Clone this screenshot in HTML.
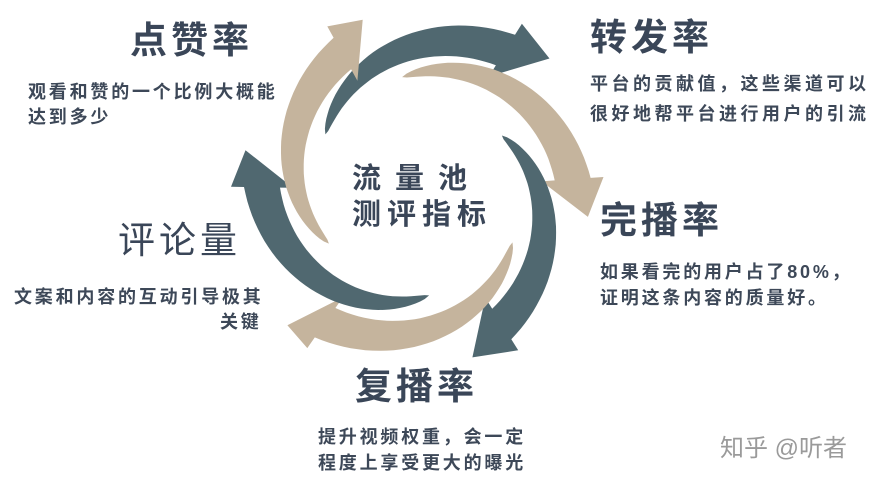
<!DOCTYPE html>
<html><head><meta charset="utf-8"><style>
html,body{margin:0;padding:0;background:#fff;}
body{width:885px;height:482px;position:relative;overflow:hidden;font-family:"Liberation Sans","Noto Sans CJK SC",sans-serif;color:#3a4658;}
.t{position:absolute;white-space:nowrap;}
.h{font-size:37px;font-weight:bold;line-height:42px;letter-spacing:4px;}
.b{font-size:18px;line-height:25px;font-weight:bold;color:#3d4858;letter-spacing:2.8px;}
</style></head><body>
<svg id="s" width="885" height="482" style="position:absolute;left:0;top:0"></svg>
<div class="t h" style="left:130px;top:20px;">点赞率</div>
<div class="t b" style="left:28px;top:80px;">观看和赞的一个比例大概能<br>达到多少</div>
<div class="t h" style="left:590px;top:17px;">转发率</div>
<div class="t b" style="left:590px;top:69px;line-height:30px;letter-spacing:3.5px;">平台的贡献值，这些渠道可以<br>很好地帮平台进行用户的引流</div>
<div class="t h" style="left:600px;top:200px;">完播率</div>
<div class="t b" style="left:600px;top:259px;line-height:26px;">如果看完的用户占了80%，<br>证明这条内容的质量好。</div>
<div class="t h" style="left:118px;top:220px;font-weight:normal;">评论量</div>
<div class="t b" style="left:14px;top:285px;">文案和内容的互动引导极其</div>
<div class="t b" style="left:220px;top:310px;">关键</div>
<div class="t h" style="left:355px;top:366px;">复播率</div>
<div class="t b" style="left:318px;top:424px;line-height:26px;">提升视频权重，会一定<br>程度上享受更大的曝光</div>
<div class="t" style="left:352px;top:161px;font-size:29px;line-height:36px;font-weight:bold;letter-spacing:14px;">流量池</div>
<div class="t" style="left:352px;top:197px;font-size:29px;line-height:36px;font-weight:bold;letter-spacing:6px;">测评指标</div>
<div class="t" style="left:720px;top:428px;font-size:24px;color:#9a9a9a;">知乎 @听者</div>
<script>
var cx=418,cy=190,s=document.getElementById('s'),out='';
function arrow(a0,r0,a1,r1,at,rt,col){
 var N=40,L=[],R=[];
 for(var i=0;i<=N;i++){var t=i/N,a=(a0+(a1-a0)*t)*Math.PI/180,r=r0+(r1-r0)*t,w=36*Math.pow(t,0.6)/2;
  L.push([cx+(r+w)*Math.cos(a),cy+(r+w)*Math.sin(a)]);R.push([cx+(r-w)*Math.cos(a),cy+(r-w)*Math.sin(a)]);}
 var a=a1*Math.PI/180,hw=31;
 var h1=[cx+(r1+hw)*Math.cos(a),cy+(r1+hw)*Math.sin(a)],h2=[cx+(r1-hw)*Math.cos(a),cy+(r1-hw)*Math.sin(a)];
 var b=at*Math.PI/180,tip=[cx+rt*Math.cos(b),cy+rt*Math.sin(b)];
 var p=L.concat([h1,tip,h2]).concat(R.reverse());
 out+='<polygon fill="'+col+'" points="'+p.map(function(q){return q[0].toFixed(1)+','+q[1].toFixed(1)}).join(' ')+'"/>';
}
var D='#506870',T='#c5b49d';
arrow(-149,108,-58,165,-45,186,D);
arrow(-98,114,-4,155,9,172,T);
arrow(-33,100,58,158,72,176,D);
arrow(29,108,125,162,134,188,T);
arrow(84,106,181,156,193,177,D);
arrow(149,104,241,156,252,179,T);
s.innerHTML=out;
</script>
</body></html>
